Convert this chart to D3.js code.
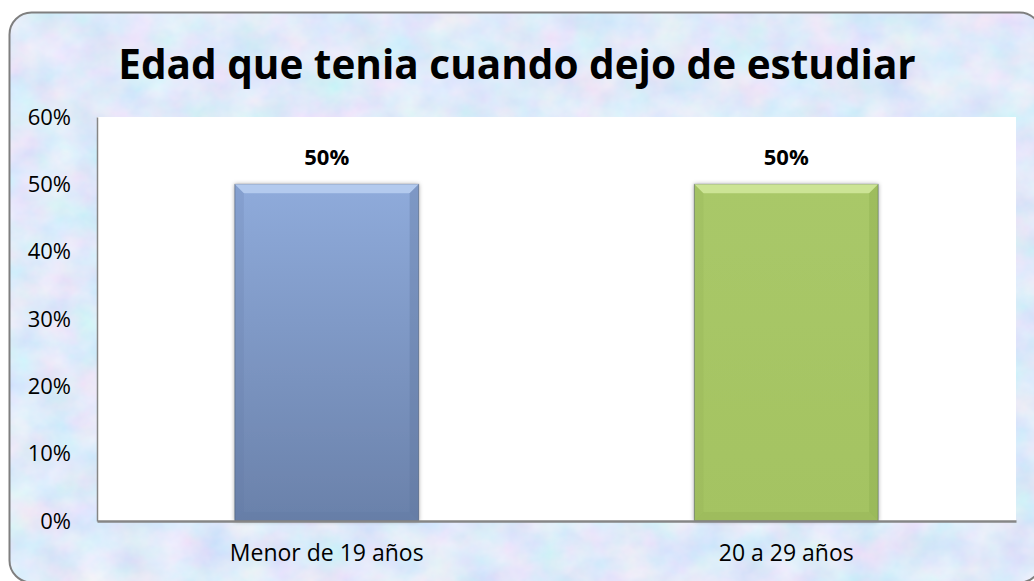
<!DOCTYPE html>
<html>
<head>
<meta charset="utf-8">
<script src="https://cdn.jsdelivr.net/npm/d3@7"></script>
<style>
  body { margin: 0; background: #fff; }
  svg text { font-family: "Open Sans", sans-serif; fill: #000; }
</style>
</head>
<body>
<div id="chart"></div>
<script>
// chart data
var categories = ["Menor de 19 años", "20 a 29 años"];
var values = [0.5, 0.5];
var yTicks = [0, 0.1, 0.2, 0.3, 0.4, 0.5, 0.6];
var title = "Edad que tenia cuando dejo de estudiar";

var W = 1034, H = 581;
var plot = {left: 97, top: 117, right: 1016, bottom: 521};

var svg = d3.select("#chart").append("svg")
    .attr("width", W)
    .attr("height", H);

var defs = svg.append("defs");

// marbled background texture
var tex = defs.append("filter").attr("id", "marble")
    .attr("x", 0).attr("y", 0).attr("width", "100%").attr("height", "100%");
tex.append("feTurbulence").attr("type", "fractalNoise")
    .attr("baseFrequency", "0.026 0.03").attr("numOctaves", 4).attr("seed", 11)
    .attr("result", "noise");
tex.append("feColorMatrix").attr("in", "noise").attr("type", "matrix")
    .attr("values",
      "0.38 0 0 0 0.55  " +
      "0 0.24 0 0 0.70  " +
      "0 0 0.12 0 0.89  " +
      "0 0 0 0 1")
    .attr("result", "col");
tex.append("feComposite").attr("in", "col").attr("in2", "SourceGraphic").attr("operator", "in");

var blueGrad = defs.append("linearGradient").attr("id", "blueGrad")
    .attr("x1", 0).attr("y1", 0).attr("x2", 0).attr("y2", 1);
blueGrad.append("stop").attr("offset", "0%").attr("stop-color", "#8fabdb");
blueGrad.append("stop").attr("offset", "100%").attr("stop-color", "#6a81aa");

var greenGrad = defs.append("linearGradient").attr("id", "greenGrad")
    .attr("x1", 0).attr("y1", 0).attr("x2", 0).attr("y2", 1);
greenGrad.append("stop").attr("offset", "0%").attr("stop-color", "#a9c868");
greenGrad.append("stop").attr("offset", "100%").attr("stop-color", "#a4c362");

var shadow = defs.append("filter").attr("id", "barShadow")
    .attr("x", "-10%").attr("y", "-10%").attr("width", "120%").attr("height", "120%");
shadow.append("feDropShadow").attr("dx", 0).attr("dy", 0).attr("stdDeviation", 2)
    .attr("flood-color", "#000").attr("flood-opacity", 0.35);

// outer chart box
svg.append("rect")
    .attr("x", 9.5).attr("y", 12.5)
    .attr("width", 1032).attr("height", 570)
    .attr("rx", 22)
    .attr("fill", "#cfdcf3")
    .attr("filter", "url(#marble)");
svg.append("rect")
    .attr("x", 9.5).attr("y", 12.5)
    .attr("width", 1032).attr("height", 570)
    .attr("rx", 22)
    .attr("fill", "none")
    .attr("stroke", "#7f7f7f")
    .attr("stroke-width", 2);

// plot area
svg.append("rect")
    .attr("x", plot.left).attr("y", plot.top)
    .attr("width", plot.right - plot.left).attr("height", plot.bottom - plot.top)
    .attr("fill", "#fff");

var x = d3.scaleBand()
    .domain(categories)
    .range([plot.left, plot.right])
    .paddingInner(0.6)
    .paddingOuter(0.3);

var y = d3.scaleLinear()
    .domain([0, 0.6])
    .range([plot.bottom, plot.top]);

var pct = d3.format(".0%");

// y axis
var yAxis = svg.append("g")
    .attr("transform", "translate(" + plot.left + ",0)")
    .call(d3.axisLeft(y).tickValues(yTicks).tickFormat(pct).tickSize(0).tickPadding(26));
yAxis.select(".domain").attr("stroke", "#868686").attr("stroke-width", 1.5);
yAxis.selectAll("text")
    .style("font-family", "'Open Sans', sans-serif")
    .style("font-size", "22px")
    .attr("fill", "#000");

// bars
var fills = ["url(#blueGrad)", "url(#greenGrad)"];
var bevelTop = ["#b7cdef", "#cfe79a"];
var bevelSide = ["#5f769e", "#8aa84e"];
var bw = x.bandwidth();

var bars = svg.append("g").selectAll("g.bar")
    .data(values)
    .enter().append("g")
    .attr("class", "bar");

bars.append("rect")
    .attr("x", function(d, i) { return x(categories[i]); })
    .attr("y", function(d) { return y(d); })
    .attr("width", bw)
    .attr("height", function(d) { return y(0) - y(d); })
    .attr("fill", function(d, i) { return fills[i]; })
    .attr("stroke", "#3b4a5e")
    .attr("stroke-opacity", 0.5)
    .attr("filter", "url(#barShadow)");

var bv = 9;
// top bevel
bars.append("path")
    .attr("d", function(d, i) {
      var x0 = x(categories[i]), x1 = x0 + bw, t = y(d);
      return "M" + x0 + "," + t + "L" + x1 + "," + t + "L" + (x1 - bv) + "," + (t + bv) + "L" + (x0 + bv) + "," + (t + bv) + "Z";
    })
    .attr("fill", function(d, i) { return bevelTop[i]; })
    .attr("opacity", 0.9);
// side bevels
bars.append("path")
    .attr("d", function(d, i) {
      var x0 = x(categories[i]), t = y(d), b = y(0);
      return "M" + x0 + "," + t + "L" + (x0 + bv) + "," + (t + bv) + "L" + (x0 + bv) + "," + (b - bv) + "L" + x0 + "," + b + "Z";
    })
    .attr("fill", function(d, i) { return bevelSide[i]; })
    .attr("opacity", 0.18);
bars.append("path")
    .attr("d", function(d, i) {
      var x1 = x(categories[i]) + bw, t = y(d), b = y(0);
      return "M" + x1 + "," + t + "L" + (x1 - bv) + "," + (t + bv) + "L" + (x1 - bv) + "," + (b - bv) + "L" + x1 + "," + b + "Z";
    })
    .attr("fill", function(d, i) { return bevelSide[i]; })
    .attr("opacity", 0.35);
bars.append("path")
    .attr("d", function(d, i) {
      var x0 = x(categories[i]), x1 = x0 + bw, b = y(0);
      return "M" + x0 + "," + b + "L" + x1 + "," + b + "L" + (x1 - bv) + "," + (b - bv) + "L" + (x0 + bv) + "," + (b - bv) + "Z";
    })
    .attr("fill", function(d, i) { return bevelSide[i]; })
    .attr("opacity", 0.25);

// data labels
bars.append("text")
    .attr("x", function(d, i) { return x(categories[i]) + bw / 2; })
    .attr("y", function(d) { return y(d) - 19; })
    .attr("text-anchor", "middle")
    .style("font-size", "22px")
    .style("font-weight", "bold")
    .text(function(d) { return pct(d); });

// x axis
var xAxis = svg.append("g")
    .attr("transform", "translate(0," + plot.bottom + ")")
    .call(d3.axisBottom(x).tickSize(0).tickPadding(24));
xAxis.select(".domain").attr("stroke", "#868686").attr("stroke-width", 2.5);
xAxis.selectAll("text")
    .style("font-family", "'Open Sans', sans-serif")
    .style("font-size", "23px")
    .attr("fill", "#000");

// title
svg.append("text")
    .attr("x", 517)
    .attr("y", 79)
    .attr("text-anchor", "middle")
    .style("font-size", "40.5px")
    .style("font-weight", "bold")
    .text(title);
</script>
</body>
</html>
